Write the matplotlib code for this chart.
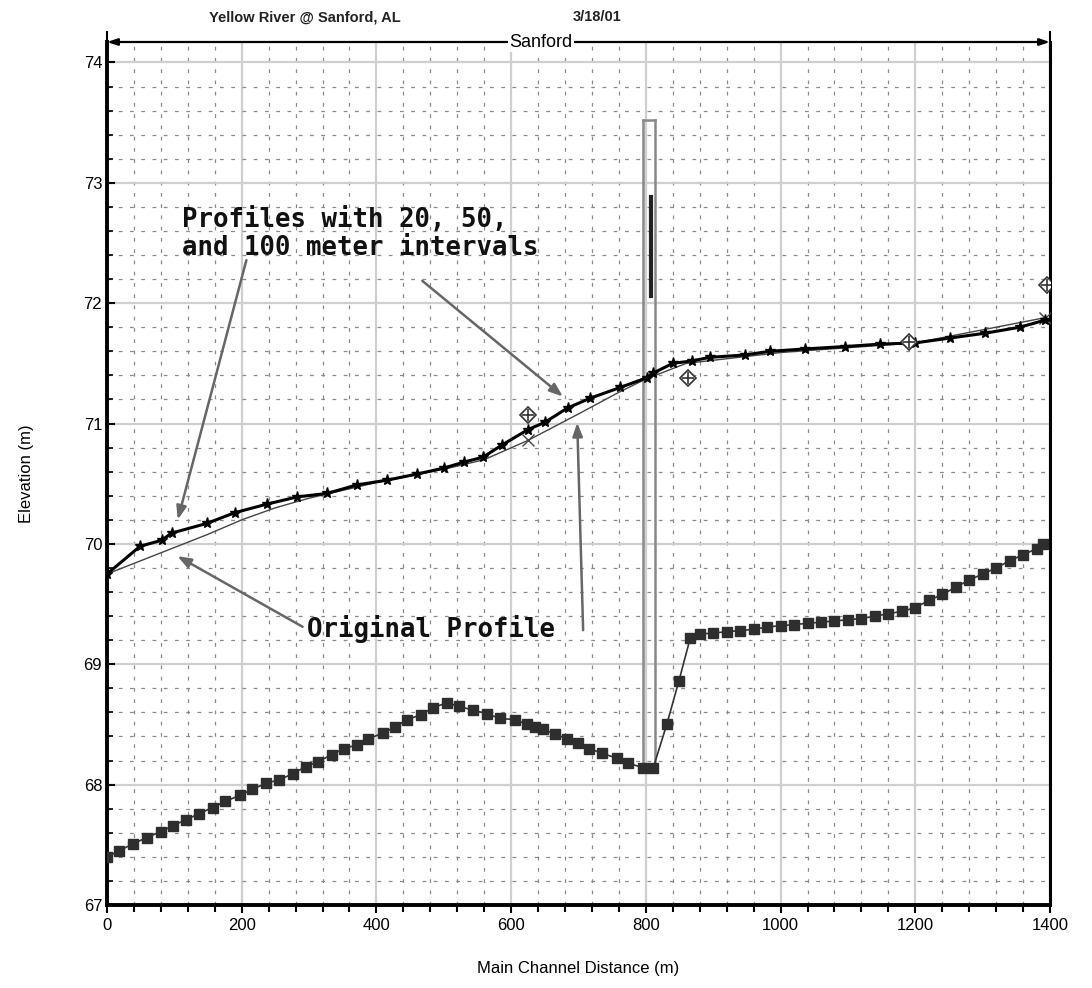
import matplotlib
matplotlib.use("Agg")
import matplotlib.pyplot as plt
from matplotlib.ticker import MultipleLocator

# ---------------- data ----------------
ground_x = [0, 18, 39, 59, 80, 98, 118, 137, 157, 175, 197, 215, 236, 255, 276, 295, 313,
            334, 352, 371, 388, 410, 428, 445, 466, 484, 505, 522, 543, 564, 583, 606, 623,
            635, 647, 665, 683, 699, 716, 735, 757, 773, 796, 811, 831, 849, 866, 880, 900,
            920, 940, 960, 980, 1000, 1020, 1040, 1060, 1080, 1100, 1120, 1140, 1160, 1180,
            1200, 1220, 1240, 1260, 1280, 1300, 1320, 1340, 1360, 1380, 1390]
ground_y = [67.40, 67.45, 67.51, 67.56, 67.61, 67.66, 67.71, 67.76, 67.81, 67.86, 67.91,
            67.96, 68.01, 68.04, 68.09, 68.15, 68.19, 68.25, 68.30, 68.33, 68.38, 68.43,
            68.48, 68.54, 68.58, 68.64, 68.68, 68.65, 68.62, 68.59, 68.55, 68.54, 68.50,
            68.48, 68.46, 68.42, 68.38, 68.35, 68.30, 68.26, 68.22, 68.18, 68.14, 68.14,
            68.50, 68.86, 69.22, 69.25, 69.26, 69.27, 69.28, 69.29, 69.31, 69.32, 69.33,
            69.34, 69.35, 69.36, 69.37, 69.38, 69.40, 69.42, 69.44, 69.47, 69.53, 69.58,
            69.64, 69.70, 69.75, 69.80, 69.86, 69.91, 69.96, 70.00]

ws_x = [0, 49, 81, 96, 148, 190, 237, 282, 327, 371, 416, 460, 500, 530, 558, 586, 625,
        650, 684, 717, 762, 801, 811, 840, 868, 895, 947, 984, 1036, 1096, 1148, 1200,
        1251, 1303, 1355, 1393]
ws_y = [69.75, 69.98, 70.03, 70.09, 70.17, 70.26, 70.33, 70.39, 70.42, 70.49, 70.53,
        70.58, 70.63, 70.68, 70.72, 70.82, 70.95, 71.01, 71.13, 71.21, 71.30, 71.38,
        71.42, 71.50, 71.52, 71.55, 71.57, 71.60, 71.62, 71.64, 71.66, 71.67, 71.71,
        71.75, 71.80, 71.86]

orig_x = [0, 50, 100, 150, 200, 250, 300, 400, 500, 560, 625, 700, 760, 800, 860, 1000,
          1200, 1393]
orig_y = [69.75, 69.86, 69.97, 70.08, 70.20, 70.30, 70.38, 70.51, 70.62, 70.70, 70.86,
          71.08, 71.26, 71.37, 71.50, 71.59, 71.67, 71.88]

obs_x = [625, 862, 1190, 1395]
obs_y = [71.07, 71.38, 71.68, 72.15]

bridge_left, bridge_right, bridge_deck_x = 796, 813, 807
bridge_low, bridge_top = 68.14, 73.52
deck_low, deck_high = 72.06, 72.88

x_ticks = [0, 200, 400, 600, 800, 1000, 1200, 1400]
y_ticks = [67, 68, 69, 70, 71, 72, 73, 74]

# ---------------- figure ----------------
plt.rcParams['font.family'] = ['Liberation Sans', 'DejaVu Sans']
fig = plt.figure(figsize=(10.92, 9.88), dpi=100)
ax = fig.add_axes([107/1092, 1-905/988, (1050-107)/1092, (905-42)/988])
ax.set_xlim(0, 1400)
ax.set_ylim(67, 74.17)

# grid
ax.set_xticks(x_ticks)
ax.set_yticks(y_ticks)
ax.xaxis.set_minor_locator(MultipleLocator(40))
ax.yaxis.set_minor_locator(MultipleLocator(0.2))
ax.grid(which='major', color='#cfcfcf', lw=1.6, ls='-')
ax.grid(which='minor', color='#8a8a8a', lw=0.9, ls=(0, (3, 6)))
ax.set_axisbelow(True)

# ground
ax.plot(ground_x, ground_y, color='#333333', lw=1.2, marker='s', ms=7,
        mfc='#2e2e2e', mec='#2e2e2e', zorder=4)

# bridge
ax.plot([bridge_left, bridge_left], [bridge_low, bridge_top], color='#888888', lw=1.8, zorder=3)
ax.plot([bridge_right, bridge_right], [bridge_low, bridge_top], color='#888888', lw=1.8, zorder=3)
ax.plot([bridge_left, bridge_right], [bridge_top, bridge_top], color='#888888', lw=1.8, zorder=3)
ax.plot([bridge_deck_x, bridge_deck_x], [deck_low, deck_high], color='#222222', lw=3, zorder=3)

# water surfaces
ax.plot(orig_x, orig_y, color='#444444', lw=1.0, zorder=5)
ax.plot([orig_x[10], orig_x[-1]], [orig_y[10], orig_y[-1]], ls='none', marker='x',
        ms=8, mec='#444444', zorder=5)
ax.plot(ws_x, ws_y, color='black', lw=2.2, marker='*', ms=8, zorder=6)
ax.plot(obs_x, obs_y, ls='none', marker='D', ms=8, mfc='white', mec='#333333', mew=1.2, zorder=7)
ax.plot(obs_x, obs_y, ls='none', marker='+', ms=9, mec='#333333', mew=1.2, zorder=7)

# annotations
mono = dict(family='DejaVu Sans Mono', fontweight='bold', fontsize=18.5, color='#111111')
ax.text(111, 72.69, 'Profiles with 20, 50,', va='center', ha='left', zorder=8, **mono)
ax.text(111, 72.46, 'and 100 meter intervals', va='center', ha='left', zorder=8, **mono)
ax.text(297, 69.29, 'Original Profile', va='center', ha='left', zorder=8, **mono)

arr = dict(arrowstyle='-|>,head_length=0.8,head_width=0.3', color='#666666', lw=1.8)
ax.annotate('', xy=(104, 70.18), xytext=(208, 72.38), arrowprops=arr, zorder=8)
ax.annotate('', xy=(680, 71.21), xytext=(465, 72.20), arrowprops=arr, zorder=8)
ax.annotate('', xy=(101, 69.91), xytext=(294, 69.30), arrowprops=arr, zorder=8)
ax.annotate('', xy=(698, 71.03), xytext=(707, 69.26), arrowprops=arr, zorder=8)

# reach bar
reach_y = 74.17
ax.annotate('', xy=(0, reach_y), xytext=(1400, reach_y), annotation_clip=False,
            arrowprops=dict(arrowstyle='<|-|>,head_length=0.6,head_width=0.2',
                            color='black', lw=1.6, shrinkA=0, shrinkB=0))
ax.plot([0, 0], [reach_y - 0.07, reach_y + 0.08], color='black', lw=1.5, clip_on=False)
ax.plot([1400, 1400], [reach_y - 0.07, reach_y + 0.08], color='black', lw=1.5, clip_on=False)
ax.text(644, reach_y, 'Sanford', ha='center', va='center', fontsize=13,
        bbox=dict(facecolor='white', edgecolor='none', pad=1), clip_on=False, zorder=9)

# spines / ticks
for s in ['left', 'bottom']:
    ax.spines[s].set_linewidth(2.8)
ax.spines['right'].set_linewidth(2.2)
ax.spines['top'].set_visible(False)
ax.tick_params(axis='both', which='major', labelsize=12, length=6, width=1.5)
ax.tick_params(axis='x', which='minor', length=5, width=1.5, direction='out')
ax.tick_params(axis='y', which='minor', length=4, width=1.2, direction='in')
ax.tick_params(axis='y', which='major', direction='in')

ax.set_xlabel('Main Channel Distance (m)', fontsize=12, labelpad=20)
ax.set_ylabel('Elevation (m)', fontsize=12, labelpad=36)

fig.text(305/1092, 1-17/988, 'Yellow River @ Sanford, AL', ha='center', va='center',
         fontsize=10.5, fontweight='bold', color='#222222')
fig.text(597/1092, 1-17/988, '3/18/01', ha='center', va='center',
         fontsize=10.5, fontweight='bold', color='#222222')

fig.savefig('out.png', dpi=100, facecolor='white')
